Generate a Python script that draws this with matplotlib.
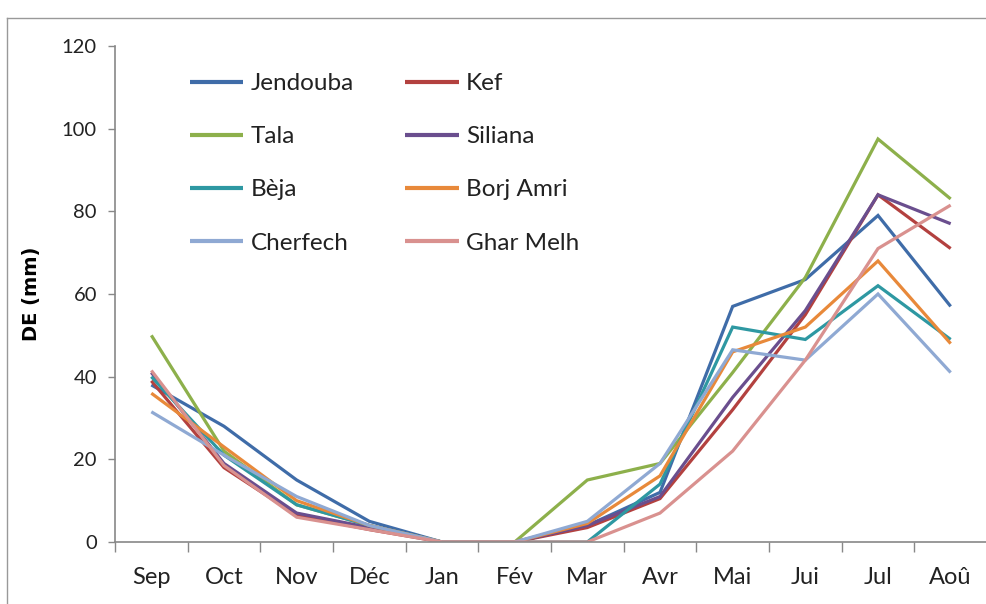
import matplotlib
matplotlib.use("Agg")
import matplotlib.pyplot as plt
from matplotlib.lines import Line2D

months = ['Sep', 'Oct', 'Nov', 'Déc', 'Jan', 'Fév', 'Mar', 'Avr', 'Mai', 'Jui', 'Jul', 'Aoû']
jendouba = [38, 28, 15, 5, 0, 0, 4, 12, 57, 63.5, 79, 57]
kef = [39, 18, 6.5, 3, 0, 0, 3.5, 10.5, 32, 55, 84, 71]
tala = [50, 22, 9, 4, 0, 0, 15, 19, 41, 64, 97.5, 83]
siliana = [41, 19, 7, 3.5, 0, 0, 4, 11, 35, 56, 84, 77]
beja = [40, 21, 9, 4, 0, 0, 0, 14, 52, 49, 62, 49]
borj_amri = [36, 23, 10, 4, 0, 0, 4.5, 16, 46, 52, 68, 48]
cherfech = [31.5, 21, 11, 4, 0, 0, 5, 19, 46.5, 44, 60, 41]
ghar_melh = [41.5, 18.5, 6, 3, 0, 0, 0, 7, 22, 44, 71, 81.5]

series = [
    ('Jendouba', jendouba, '#3F6CA8'),
    ('Kef', kef, '#B3413F'),
    ('Tala', tala, '#8DB04B'),
    ('Siliana', siliana, '#6A4E8E'),
    ('Bèja', beja, '#2E98A2'),
    ('Borj Amri', borj_amri, '#E8893A'),
    ('Cherfech', cherfech, '#8FA9D3'),
    ('Ghar Melh', ghar_melh, '#D9918F'),
]

plt.rcParams['font.family'] = ['Lato', 'DejaVu Sans']

W, H = 987, 604
fig = plt.figure(figsize=(W / 100, H / 100), dpi=100)
ax = fig.add_axes([115 / W, (H - 542) / H, (987 - 115) / W, (542 - 46) / H])

x = list(range(len(months)))
handles = {}
for name, vals, col in series:
    h, = ax.plot(x, vals, color=col, lw=2.3, solid_joinstyle='miter', solid_capstyle='butt', label=name)
    handles[name] = h

ax.set_xlim(-0.5, len(months) - 0.5)
ax.set_ylim(0, 120)
ax.set_yticks(range(0, 121, 20))
ax.set_xticks(x)
ax.set_xticklabels(months)
ax.set_xticks([i - 0.5 for i in range(len(months) + 1)], minor=True)
ax.tick_params(axis='x', which='major', length=0, pad=18, labelsize=17, colors='#222222')
ax.tick_params(axis='x', which='minor', length=7, width=1, color='#888888', direction='out')
ax.tick_params(axis='y', length=5, width=1, color='#888888', labelsize=14.5, labelcolor='#222222', pad=8)

for s in ['top', 'right']:
    ax.spines[s].set_visible(False)
for s in ['left', 'bottom']:
    ax.spines[s].set_color('#888888')
    ax.spines[s].set_linewidth(1.2)

ax.set_ylabel('DE (mm)', fontsize=14, fontweight='bold', family=['DejaVu Sans'])
ax.yaxis.set_label_coords(-0.085, 0.5)

order = ['Jendouba', 'Tala', 'Bèja', 'Cherfech', 'Kef', 'Siliana', 'Borj Amri', 'Ghar Melh']
leg = ax.legend([handles[n] for n in order], order, ncol=2, loc='upper left',
                bbox_to_anchor=(0.086, 0.945), frameon=False, fontsize=17.5,
                handlelength=2.2, handletextpad=0.3, labelspacing=1.32,
                columnspacing=2.1, borderpad=0, borderaxespad=0)
for t in leg.get_texts():
    t.set_color('#222222')
for lh in leg.get_lines():
    lh.set_linewidth(3)

# outer frame
fig.add_artist(Line2D([7 / W, 7 / W], [0, (H - 18) / H], color='#999999', lw=1, transform=fig.transFigure))
fig.add_artist(Line2D([7 / W, 1], [(H - 18) / H, (H - 18) / H], color='#999999', lw=1, transform=fig.transFigure))

fig.savefig('out.png', dpi=100)
